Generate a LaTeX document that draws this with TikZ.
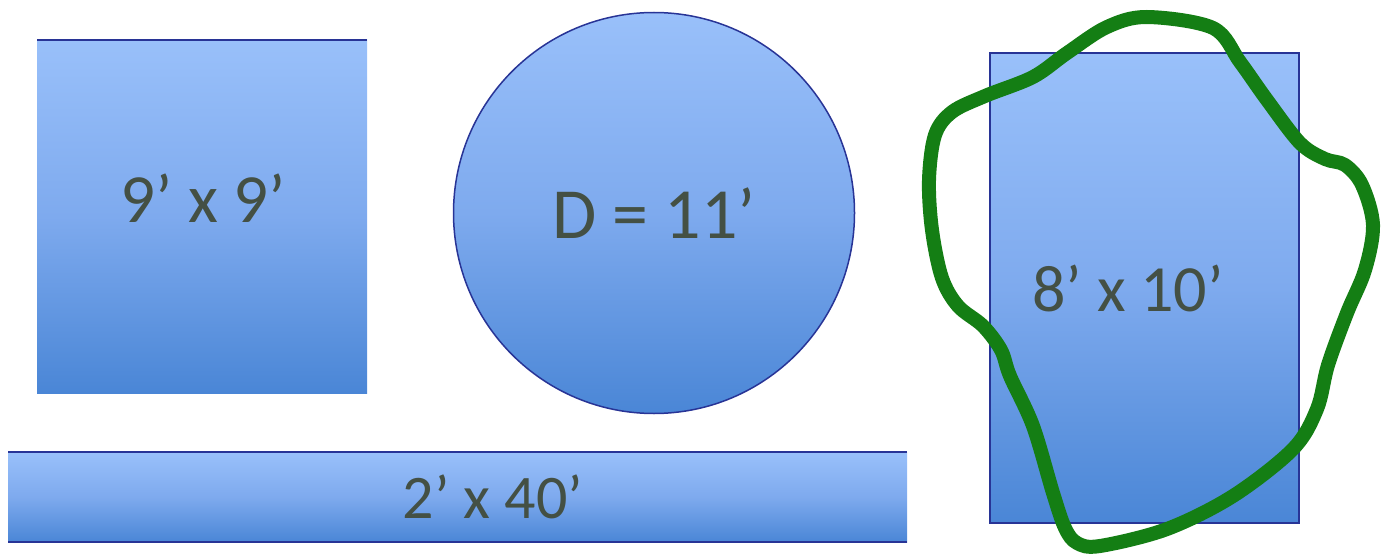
\documentclass[tikz,border=0pt]{standalone}
\usepackage{fontspec}
\setmainfont{Carlito}
\usepackage{tikz}
\usetikzlibrary{positioning}
\definecolor{shtop}{RGB}{153,192,250}
\definecolor{shmid}{RGB}{126,170,238}
\definecolor{shbot}{RGB}{74,134,214}
\definecolor{edgeblue}{RGB}{40,52,150}
\definecolor{txtgray}{RGB}{68,80,68}
\definecolor{loopgreen}{RGB}{20,126,20}

\begin{document}
\begin{tikzpicture}[x=1pt,y=-1pt,
  areabox/.style={inner sep=0pt,outer sep=0pt,top color=shtop,bottom color=shbot,middle color=shmid},
  edgeline/.style={edgeblue,line width=1.6pt},
  lbl/.style={text=txtgray,inner sep=0pt,font=\fontsize{66}{70}\selectfont},
  loopline/.style={loopgreen,line width=14pt,line cap=round,line join=round}]
  \useasboundingbox (0,0) rectangle (1388,556);
  % the four areas
  \node[areabox,minimum width=330pt,minimum height=353pt] (sq) at (202,216.5) {};
  \node[areabox,circle,draw=edgeblue,line width=1.5pt,minimum size=401pt] (circ) at (654,213) {};
  \node[areabox,minimum width=899pt,minimum height=90pt] (bar) at (457.5,497) {};
  \node[areabox,draw=edgeblue,line width=1.5pt,minimum width=309pt,minimum height=470pt] (tall) at (1144.5,288) {};
  \draw[edgeline] (sq.north west) -- (sq.north east);
  \draw[edgeline] (bar.north west) -- (bar.north east);
  \draw[edgeline] (bar.south west) -- (bar.south east);
  % sizes
  \node[lbl,font=\fontsize{69}{73}\selectfont] (sqtxt) at (203,198) {9’ x 9’};
  \node[lbl,font=\fontsize{72}{76}\selectfont] (circtxt) at (654,213) {D = 11’};
  \node[lbl,font=\fontsize{62}{66}\selectfont] (bartxt) at (493,497) {2’ x 40’};
  \node[lbl] (talltxt) at (1128,288) {8’ x 10’};
  % the hand drawn loop
  \draw[loopline] plot[smooth cycle,tension=0.55] coordinates {
    (1147,17) (1213,28) (1240,62) (1267,100) (1300,143) (1325,159) (1345,165)
    (1362,185) (1373,225) (1365,270) (1347,313) (1328,365) (1317,409) (1293,449)
    (1233,496) (1167,529) (1100,546) (1077,543) (1065,528) (1053,493) (1033,426)
    (1010,376) (1001,350) (983,326) (958,306) (942,278) (932,230) (929,180)
    (935,135) (952,112) (985,96) (1033,77) (1067,53) (1107,27)};
\end{tikzpicture}
\end{document}
